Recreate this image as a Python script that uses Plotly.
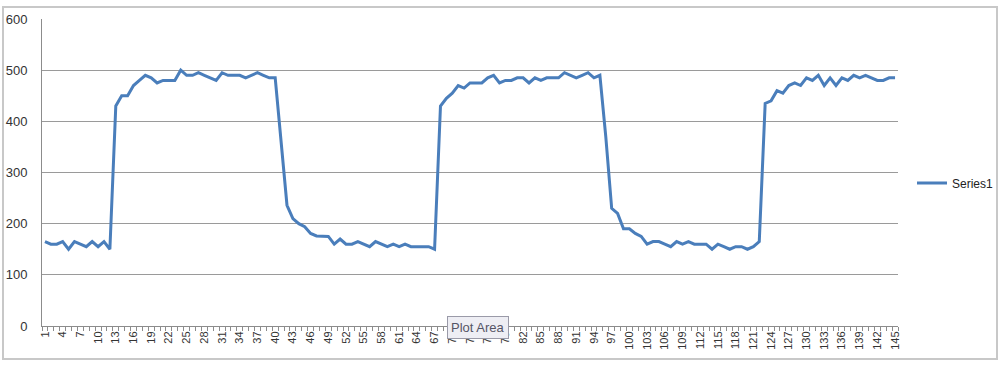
import plotly.graph_objects as go

categories = list(range(1, 146))
series1 = [
    165, 160, 160, 165, 150, 165, 160, 155, 165, 155,
    165, 150, 430, 450, 450, 470, 480, 490, 485, 475,
    480, 480, 480, 500, 490, 490, 495, 490, 485, 480,
    495, 490, 490, 490, 485, 490, 495, 490, 485, 485,
    360, 236, 210, 200, 194, 181, 176, 175, 175, 160,
    170, 160, 160, 165, 160, 155, 165, 160, 155, 160,
    155, 160, 155, 155, 155, 155, 150, 430, 445, 455,
    470, 465, 475, 475, 475, 485, 490, 475, 480, 480,
    485, 485, 475, 485, 480, 485, 485, 485, 495, 490,
    485, 490, 495, 485, 490, 370, 230, 220, 190, 190,
    181, 175, 160, 165, 165, 160, 155, 165, 160, 165,
    160, 160, 160, 150, 160, 155, 150, 155, 155, 150,
    155, 165, 435, 440, 460, 455, 470, 475, 470, 485,
    480, 490, 470, 485, 470, 485, 480, 490, 485, 490,
    485, 480, 480, 485, 485,
]
tick_labels = [str(c) for c in categories[::3]]
tick_positions = categories[::3]
y_ticks = [0, 100, 200, 300, 400, 500, 600]

FONT = "Liberation Sans, Arial, sans-serif"

fig = go.Figure()
fig.add_trace(go.Scatter(
    x=categories, y=series1, mode="lines", name="Series1",
    line=dict(color="#4A7EBB", width=3),
))

L, R, T, B = 42, 898, 19, 326
W, H = 1000, 365
pw, ph = R - L, B - T

def px_x(p):
    return (p - L) / pw

def px_y(p):
    return (B - p) / ph

fig.update_layout(
    width=W, height=H,
    margin=dict(l=L, r=W - R, t=T, b=H - B, autoexpand=False),
    paper_bgcolor="white", plot_bgcolor="white",
    font=dict(family=FONT, size=12, color="#333333"),
    showlegend=True,
    legend=dict(
        xref="container", yref="container",
        x=0.912, y=1 - 183 / 365, xanchor="left", yanchor="middle",
        font=dict(size=12, color="#222222"),
        bgcolor="rgba(0,0,0,0)", itemwidth=30,
    ),
    xaxis=dict(
        range=[0.5, 145.5], automargin=False,
        tickmode="array", tickvals=tick_positions, ticktext=tick_labels,
        tickangle=-90, tickfont=dict(size=11, color="#333333"),
        ticks="", showgrid=False, zeroline=False,
        showline=True, linecolor="#8c8c8c", linewidth=1,
        minor=dict(ticks="outside", tick0=0.5, dtick=1, ticklen=4,
                   tickcolor="#8c8c8c", showgrid=False),
        fixedrange=True,
    ),
    yaxis=dict(
        range=[0, 600], automargin=False,
        tickmode="array", tickvals=y_ticks,
        tickfont=dict(size=13, color="#333333"),
        showgrid=True, gridcolor="#9a9a9a", gridwidth=1,
        zeroline=False, showline=True, linecolor="#8c8c8c", linewidth=1,
        ticks="", ticklabelstandoff=11,
        fixedrange=True,
    ),
    shapes=[
        dict(type="rect", xref="paper", yref="paper",
             x0=px_x(3), x1=px_x(997), y0=px_y(359), y1=px_y(7),
             line=dict(color="#c8c8c8", width=2), layer="below"),
    ],
    annotations=[
        dict(xref="paper", yref="paper", x=px_x(478), y=px_y(339),
             text="Plot Area", showarrow=False,
             font=dict(size=13, color="#555566", family=FONT),
             bgcolor="#eeeef4", bordercolor="#9a9aa8", borderwidth=1,
             borderpad=3),
    ],
)

fig.write_html("out.html")
